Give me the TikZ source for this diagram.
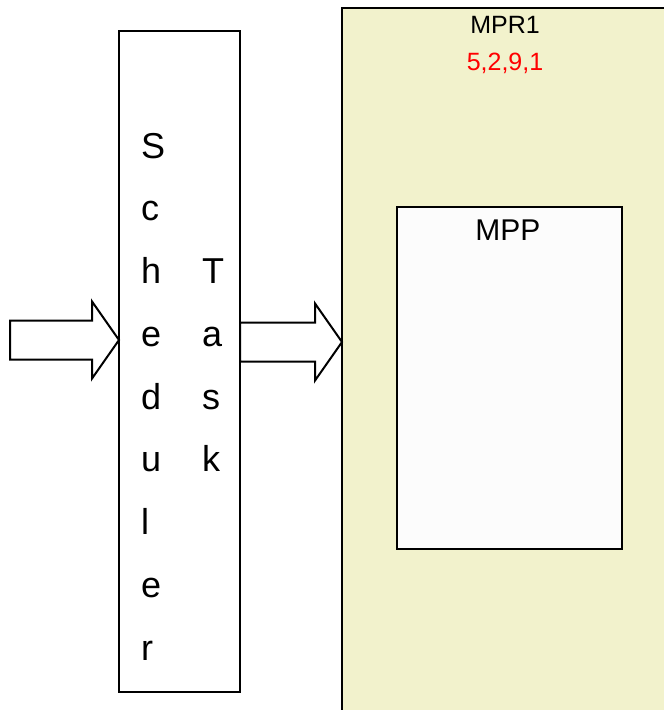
\documentclass[tikz,border=0pt]{standalone}
\usepackage{fontspec}
\setmainfont{Liberation Sans}
\usepackage{xcolor}
\usetikzlibrary{shapes.arrows}
\definecolor{mprfill}{HTML}{F2F2CC}
\definecolor{mppfill}{HTML}{FCFCFC}

\begin{document}
\begin{tikzpicture}[x=1pt,y=-1pt,line width=2pt,
  box/.style={rectangle,draw,inner sep=0pt,outer sep=0pt},
  letter/.style={anchor=base west,inner sep=0pt,font=\fontsize{36}{36}\selectfont},
  bigarrow/.style={single arrow,draw,fill=white,inner xsep=0pt,inner ysep=18.5pt,outer sep=0pt,minimum height=#1,minimum width=75pt,single arrow head extend=19pt,single arrow tip angle=110,anchor=tip}]
\useasboundingbox (0,0) rectangle (664,710);
\node (mpr) at (511,364) [box,fill=mprfill,minimum width=338pt,minimum height=712pt] {};
\node (mpp) at (509.5,378) [box,fill=mppfill,minimum width=225pt,minimum height=342pt] {};
\node (sched) at (179.5,361.5) [box,minimum width=121pt,minimum height=661pt] {};
\node (mprlabel) at (505,33) [anchor=base,font=\fontsize{25}{25}\selectfont] {MPR1};
\node (mprids) at (505,70) [anchor=base,text=red,font=\fontsize{25}{25}\selectfont] {5,2,9,1};
\node (mpplabel) at (508,240) [anchor=base,font=\fontsize{30}{30}\selectfont] {MPP};
\node (s1) at (140,158) [letter] {S};
\node (s2) at (140,220.75) [letter] {c};
\node (s3) at (140,283.5) [letter] {h};
\node (s4) at (140,346.25) [letter] {e};
\node (s5) at (140,409) [letter] {d};
\node (s6) at (140,471.75) [letter] {u};
\node (s7) at (140,534.5) [letter] {l};
\node (s8) at (140,597.25) [letter] {e};
\node (s9) at (140,660) [letter] {r};
\node (t1) at (201,283.5) [letter] {T};
\node (t2) at (201,346.25) [letter] {a};
\node (t3) at (201,409) [letter] {s};
\node (t4) at (201,471.75) [letter] {k};
\node (inarrow) at (sched.west |- 0,340) [bigarrow=109pt] {};
\node (outarrow) at (mpr.west |- 0,342) [bigarrow=102pt] {};
\end{tikzpicture}
\end{document}
